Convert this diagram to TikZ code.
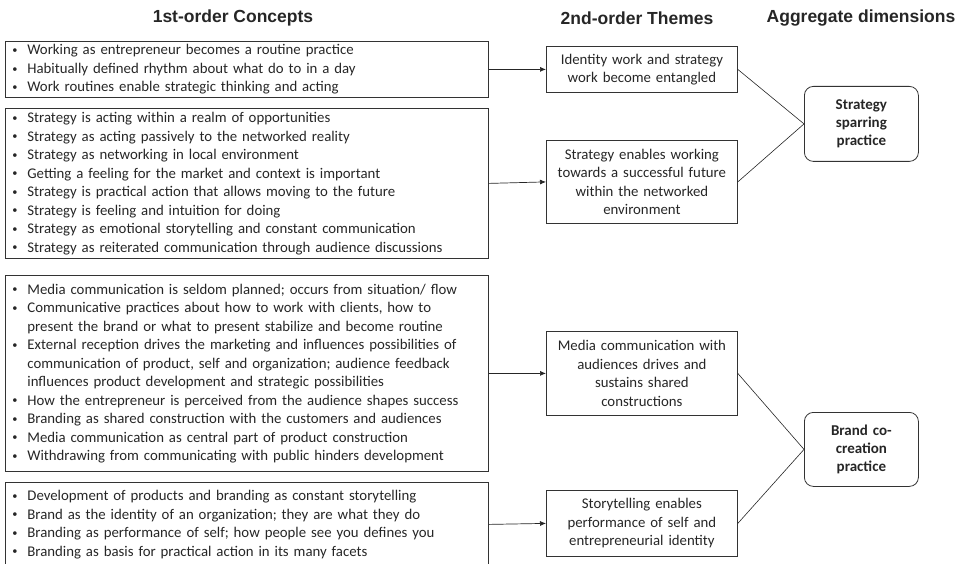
\documentclass[tikz,border=0pt]{standalone}
\usepackage{fontspec}
\setmainfont{Carlito}
\newfontfamily\headfont{Liberation Sans}
\usetikzlibrary{arrows.meta}

\newcommand{\bul}{\hspace*{7pt}\makebox[15pt][l]{\raisebox{1.2pt}{\scalebox{0.7}{\textbullet}}}}
\newcommand{\cont}{\hspace*{22pt}}

\tikzset{
  conbox/.style={draw=black!80, line width=0.8pt, anchor=north west, inner sep=0pt,
    text width=483pt, align=left, font=\fontsize{14.8}{18.5}\selectfont, text=black!85},
  themebox/.style={draw=black!80, line width=0.8pt, anchor=north west, inner sep=0pt,
    minimum width=191pt, text width=189pt, align=center,
    font=\fontsize{14.8}{18.5}\selectfont, text=black!85},
  dimbox/.style={draw=black!80, line width=0.8pt, anchor=north west, inner sep=0pt,
    rounded corners=9pt, minimum width=114pt, minimum height=75pt, text width=100pt,
    align=center, font=\fontsize{15}{18}\selectfont\bfseries, text=black!85},
  head/.style={font=\headfont\bfseries\fontsize{17.5}{20}\selectfont, text=black!85},
  feed/.style={-{Latex[length=6pt,width=5pt]}, black!85, line width=0.7pt},
  link/.style={black!85, line width=0.6pt}
}

\begin{document}
\begin{tikzpicture}[x=1pt, y=-1pt]
    \useasboundingbox (0,0) rectangle (963,564);

    % column heads
    \node[head] (h1) at (233,18) {1st-order Concepts};
    \node[head] (h2) at (637,18) {2nd-order Themes};
    \node[head] (h3) at (861,18) {Aggregate dimensions};

    % 1st-order concepts
    \node[conbox, minimum height=56pt] (c1) at (5,41) {%
      \bul Working as entrepreneur becomes a routine practice\\
      \bul Habitually defined rhythm about what do to in a day\\
      \bul Work routines enable strategic thinking and acting};
    \node[conbox, minimum height=150pt] (c2) at (5,108) {%
      \bul Strategy is acting within a realm of opportunities\\
      \bul Strategy as acting passively to the networked reality\\
      \bul Strategy as networking in local environment\\
      \bul Getting a feeling for the market and context is important\\
      \bul Strategy is practical action that allows moving to the future\\
      \bul Strategy is feeling and intuition for doing\\
      \bul Strategy as emotional storytelling and constant communication\\
      \bul Strategy as reiterated communication through audience discussions};
    \node[conbox, minimum height=196pt] (c3) at (5,275) {%
      \bul Media communication is seldom planned; occurs from situation/ flow\\
      \bul Communicative practices about how to work with clients, how to\\
      \cont present the brand or what to present stabilize and become routine\\
      \bul External reception drives the marketing and influences possibilities of\\
      \cont communication of product, self and organization; audience feedback\\
      \cont influences product development and strategic possibilities\\
      \bul How the entrepreneur is perceived from the audience shapes success\\
      \bul Branding as shared construction with the customers and audiences\\
      \bul Media communication as central part of product construction\\
      \bul Withdrawing from communicating with public hinders development};
    \node[conbox, minimum height=84pt] (c4) at (5,482) {%
      \bul Development of products and branding as constant storytelling\\
      \bul Brand as the identity of an organization; they are what they do\\
      \bul Branding as performance of self; how people see you defines you\\
      \bul Branding as basis for practical action in its many facets};

    % 2nd-order themes
    \node[themebox, minimum height=46pt] (t1) at (546,46) {Identity work and strategy\\work become entangled};
    \node[themebox, minimum height=83pt] (t2) at (546,140) {Strategy enables working\\towards a successful future\\within the networked\\environment};
    \node[themebox, minimum height=84pt] (t3) at (546,331) {Media communication with\\audiences drives and\\sustains shared\\constructions};
    \node[themebox, minimum height=66pt] (t4) at (546,490) {Storytelling enables\\performance of self and\\entrepreneurial identity};

    % aggregate dimensions
    \node[dimbox] (d1) at (804,86) {Strategy\\sparring\\practice};
    \node[dimbox, minimum height=74pt] (d2) at (804,412) {Brand co-\\creation\\practice};

    \draw[feed] (c1.east) -- (t1.west);
    \draw[feed] (c2.east) -- (t2.west);
    \draw[feed] (c3.east) -- (t3.west);
    \draw[feed] (c4.east) -- (t4.west);

    \draw[link] (t1.east) -- (d1.west);
    \draw[link] (t2.east) -- (d1.west);
    \draw[link] (t3.east) -- (d2.west);
    \draw[link] (t4.east) -- (d2.west);
\end{tikzpicture}
\end{document}
